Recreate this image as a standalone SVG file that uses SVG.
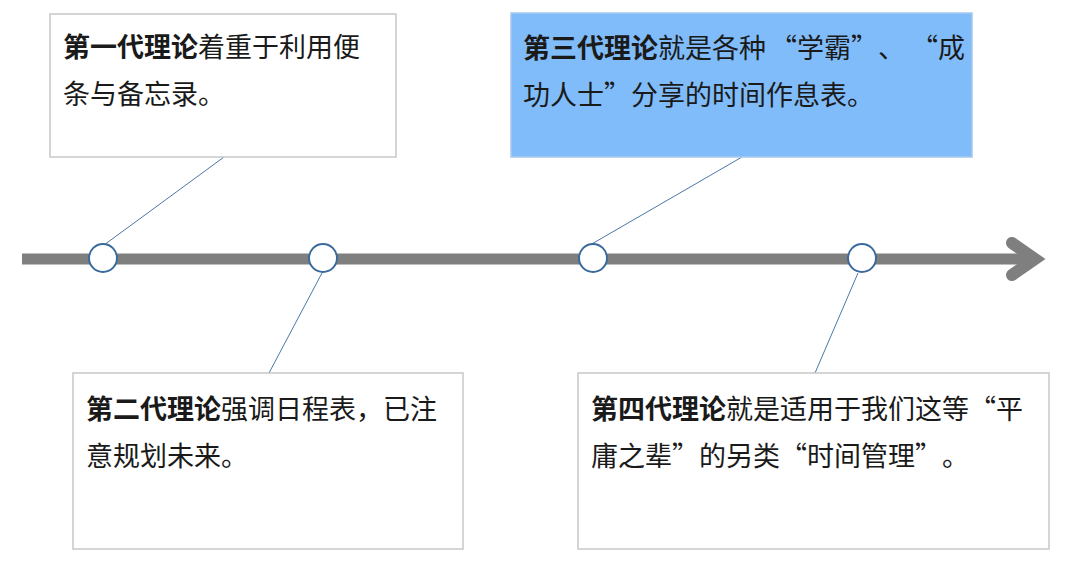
<svg xmlns="http://www.w3.org/2000/svg" width="1080" height="580" viewBox="0 0 1080 580">
<style>
.box{fill:#ffffff;stroke:#c8c8c8;stroke-width:1.5}
.hl{fill:#80bcf9;stroke:#a6c9ee;stroke-width:1.5}
.t{font-family:"Noto Sans CJK SC","Liberation Sans",sans-serif;font-size:27px;fill:#1a1a1a;text-spacing-trim:space-all}
.b{font-weight:bold}
.conn{stroke:#4a78a8;stroke-width:1;fill:none}
.dot{fill:#ffffff;stroke:#3a6a9c;stroke-width:2}
</style>
<rect width="1080" height="580" fill="#ffffff"/>
<g id="timeline">
<line x1="22" y1="259" x2="1032" y2="259" stroke="#7f7f7f" stroke-width="11"/>
<path d="M1012,243 L1035,259 L1012,275" fill="none" stroke="#7f7f7f" stroke-width="12" stroke-linecap="round" stroke-linejoin="miter"/>
</g>
<g id="connectors">
<line class="conn" x1="104" y1="245" x2="224" y2="157"/>
<line class="conn" x1="322" y1="273" x2="269" y2="373"/>
<line class="conn" x1="590" y1="245" x2="742" y2="157"/>
<line class="conn" x1="858" y1="273" x2="815" y2="373"/>
</g>
<g id="node1">
<rect class="box" x="50" y="14" width="346" height="143"/>
<text class="t" x="63" y="57"><tspan class="b">第一代理论</tspan>着重于利用便</text>
<text class="t" x="63" y="104">条与备忘录。</text>
</g>
<g id="node2">
<rect class="box" x="73" y="373" width="390" height="176"/>
<text class="t" x="86" y="419"><tspan class="b">第二代理论</tspan>强调日程表，已注</text>
<text class="t" x="86" y="466">意规划未来。</text>
</g>
<g id="node3">
<rect class="hl" x="511" y="13" width="461" height="144"/>
<text class="t" x="523" y="58"><tspan class="b">第三代理论</tspan>就是各种<tspan x="770">“学霸”</tspan><tspan x="878">、</tspan><tspan x="911">“成</tspan></text>
<text class="t" x="523" y="105">功人士”分享的时间作息表。</text>
</g>
<g id="node4">
<rect class="box" x="578" y="373" width="471" height="176"/>
<text class="t" x="591" y="419"><tspan class="b">第四代理论</tspan>就是适用于我们这等“平</text>
<text class="t" x="591" y="466">庸之辈”的另类“时间管理”<tspan x="942">。</tspan></text>
</g>
<g id="markers">
<circle class="dot" cx="103" cy="258" r="14"/>
<circle class="dot" cx="323" cy="258" r="14"/>
<circle class="dot" cx="593" cy="258" r="14"/>
<circle class="dot" cx="862" cy="258" r="14"/>
</g>
</svg>
